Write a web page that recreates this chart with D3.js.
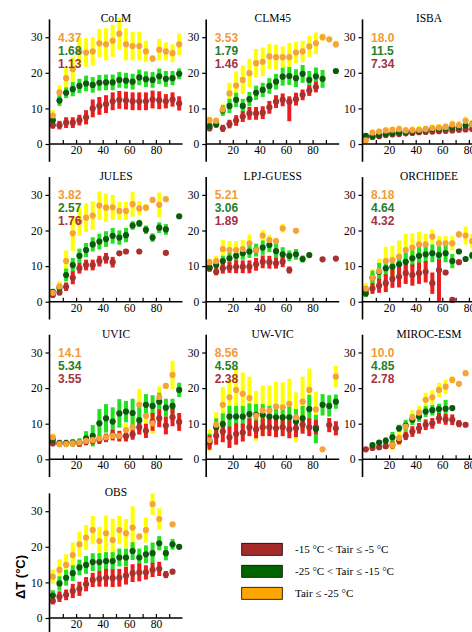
<!DOCTYPE html>
<html lang="en">
<head>
<meta charset="utf-8">
<title>Delta T by model</title>
<script src="https://d3js.org/d3.v7.min.js"></script>
<style>
  body { margin: 0; background: #fff; }
  .tick text { font-family: "Liberation Serif", serif; font-size: 11.5px; fill: #000; }
  .tick line { stroke: #000; stroke-width: 1.2; }
  .title { font-family: "Liberation Serif", serif; font-size: 11.5px; }
  .stat { font-family: "Liberation Sans", sans-serif; font-size: 12px; font-weight: bold; }
  .legend text { font-family: "Liberation Serif", serif; font-size: 11px; }
</style>
</head>
<body>
<script>
// x bins (centres), every 5 units
const binCentres = [2.5, 7.5, 12.5, 17.5, 22.5, 27.5, 32.5, 37.5, 42.5, 47.5,
                    52.5, 57.5, 62.5, 67.5, 72.5, 77.5, 82.5, 87.5, 92.5, 97.5];

const modelNames = ["CoLM", "CLM45", "ISBA", "JULES", "LPJ-GUESS", "ORCHIDEE", "UVIC", "UW-VIC", "MIROC-ESM", "OBS"];
const coldStats = ["4.37", "3.53", "18.0", "3.82", "5.21", "8.18", "14.1", "8.56", "10.0"];
const midStats  = ["1.68", "1.79", "11.5", "2.57", "3.06", "4.64", "5.34", "4.58", "4.85"];
const warmStats = ["1.13", "1.46", "7.34", "1.76", "1.89", "4.32", "3.55", "2.38", "2.78"];

const legendLabels = ["-15 °C < Tair ≤ -5 °C", "-25 °C < Tair ≤ -15 °C", "Tair ≤ -25 °C"];

// [mean, err] per bin (or [mean, errDown, errUp]), null = no data
// warm: -15 < Tair <= -5, mid: -25 < Tair <= -15, cold: Tair <= -25
const colmWarm = [[5.3,1],[5.3,1.2],[6,1.5],[6,1.5],[6.7,1.5],[7.5,2],[10,2.5],[10.7,2.5],[11.2,2.5],[12,2.5],[12.4,2.5],[12.2,2.5],[12,2.5],[12,2.5],[12,2.5],[12.5,2.5],[12.3,2.5],[12,2],[12.5,2],[11.4,2]];
const colmMid = [[6.7,1],[12.2,1.5],[14.4,1.5],[15.4,2],[16.3,2],[17,2.2],[16.6,2.2],[17.2,2.2],[17.3,2.2],[17.3,2.2],[18,2.2],[17.8,2.2],[17.5,2.2],[18.7,2.2],[18.2,2.2],[18,2.2],[19,2.2],[18.3,2.2],[18.5,2],[19.7,1.5]];
const colmCold = [[8,1.5],[14.5,2],[18.5,3],[21,3.5],[26,4],[25.7,4],[26,4],[28.3,4],[28,4.5],[29,4.5],[31,4.5],[28,4.5],[27.5,4],[27.5,4],[26,3],[24,1],[26.5,3],[26,2.5],[25.5,2.5],[28,3]];

const clm45Warm = [[4.4,0.8],null,[4.4,1],[5.6,1.2],[6.6,1.5],[7.7,1.5],[8.6,1.8],[8.6,1.8],[8.8,1.8],[10.3,1.8],[11.9,1.8],[12.4,1.8],[11.9,5.5,1.5],[12.6,1.8],[13.8,1.5],[15,1.5],[16,1.5],null,null,null];
const clm45Mid = [[5,1],[5.5,1],[9.4,1.5],[10.7,2],[12.4,2],[10.7,2],[12.6,2],[14.4,2],[15.2,2],[16.3,2.2],[17.5,2.2],[18.9,2.5],[19.1,2.5],[18.5,2.5],[19.7,2.5],[18,2.5],[19,2.5],[18.3,2.5],null,[20.5,0.3]];
const clm45Cold = [[6.7,1],[6.5,1],[9.7,1.5],[14.2,3],[16.4,4],[18,4],[19.9,4],[22.7,4],[23.1,4],[24.6,3.5],[24.4,3.5],[24.4,3],[24.4,4],[25.7,3],[26,3],[27.4,3],[28.3,3],[30,1],[29.4,0.5],[28,1]];

const isbaWarm = [[2,0.5],[2,0.5],[2.2,0.5],[2.5,0.6],[2.7,0.6],[2.8,0.6],[3,0.6],[3.1,0.6],[3.3,0.6],[3.4,0.7],[3.5,0.7],[3.6,0.7],[3.7,0.7],[3.8,0.7],[4,0.7],[4.1,0.7],[4.2,0.7],[4.3,0.7],[4.4,0.7],[4.5,0.7]];
const isbaMid = [[2.3,0.6],[2.2,0.6],[2.5,0.7],[2.8,0.7],[3,0.8],[3.2,0.8],[3.4,0.8],[3.5,0.8],[3.6,0.8],[4,0.9],[4.2,0.9],[4.3,0.9],[4.5,0.9],[4.6,1],[4.8,1],[5.2,1],[5.5,1],[5.6,1],[5.8,1],[6,1]];
const isbaCold = [[1,0.5],[3.2,0.8],[3.5,0.8],[3.8,0.9],[4,0.9],[4.2,1],[3.8,1],[3.9,1],[4,1],[4.2,1],[4.5,1],[4.6,1],[4.8,1.1],[5.5,1.1],[5.3,1.1],[6.5,1.2],[5.5,1.2],[5.8,1.2],[6,1.2],[6.2,1.2]];

const julesWarm = [[1.9,0.6],[2.6,0.8],[4.2,1.2],[6.7,1.8],[9.4,1.5],[10.3,1.5],[10.3,1.5],[11.4,1.5],[12.2,1.5],[11.1,1.5],[13.6,0.5],[14.1,0.4],null,[14.1,0.3],null,null,null,[13.7,0.3],null,null];
const julesMid = [[2.8,0.8],[3.9,1],[7.5,1.8],[10.3,2],[12.9,2],[14.5,2],[16.1,2],[16.9,2.2],[17.6,2.2],[18.5,2.2],[18,2],[18.7,2],[21.4,1.2],[22,1],[20.2,1.2],[18,1.2],[20.8,1.5],[20.3,1.5],null,[24,0.3]];
const julesCold = [[2.5,1],[4.3,1.5],[11.4,3],[19.2,5],[22.5,4],[23.6,4],[24.2,4],[27,4],[26.4,4],[26.5,3.5],[25.5,2.5],[25.5,2.5],[27.4,3.5],[26.2,2],[26.4,1],[28.6,0.5],[27.2,3.5],[28.8,0.4],null,null];

const lpjWarm = [[9.4,1],[8.4,1],[9.4,1.5],[9.6,1.5],[9.8,1.8],[9.8,1.8],[9.8,1.8],[10.5,1.8],[11.2,1.8],[11.1,1.8],[10.8,1.5],[11.2,1.5],[8.9,1],null,null,null,null,[11.9,0.3],null,[12.1,0.3]];
const lpjMid = [[9.6,1],[10.3,1.2],[11.4,1.5],[12.2,1.5],[12.9,1.8],[13.6,1.8],[14.1,1.8],[14.5,1.8],[15.2,2],[15.9,2],[14.2,2],[13.3,2],[12.9,1.5],[13.3,1.5],[12,1],[13.1,0.5],null,null,null,null];
const lpjCold = [[11.1,1],[11.4,1.5],[14.8,2.5],[14.5,2.5],[14.5,2.5],[14.8,2.5],[16.4,2.5],[14.5,1.5],[18.6,1.5],[17.3,1.5],[17,1],[20.6,1.2],null,[19.9,0.4],null,null,null,null,null,null];

const orchWarm = [[3.3,1],[3.7,1.5],[4.5,2],[5.2,2.5],[6.4,2.5],[7,3],[8,3],[7.5,3],[8,3],[8.4,3],[5.2,3],[8.9,9,3],[8.2,0.5],[0.5,0.3],[11.1,0.3],null,null,null,null,null];
const orchMid = [[2.3,1],[6.7,2],[8.4,2.5],[9.4,2.5],[9.8,2.5],[10.5,2.5],[11.2,2.5],[12.2,2.5],[12.9,2.5],[13.3,2.5],[13.6,2.5],[13.1,2.5],[13.6,2.5],[11.4,2],[14.1,0.5],[12,0.5],[13,1],[13,1],[14,1],[14,1]];
const orchCold = [[3.7,1.5],[6.7,2.5],[8.6,3.5],[11.4,4],[11.7,4],[12.7,4.5],[14.5,4.5],[15.2,4],[16.1,3.5],[16.1,3],[18.3,2],[16.4,2],[16.4,2],[16.4,2],[18.9,1],[18.6,2.5],[17,2],[19,2],[18,2],[20,2]];

const uvicWarm = [[4.5,0.8],[4.5,0.8],[4.5,0.8],[4.5,0.8],[4.5,1],[5,1],[5.2,1],[5.5,1.2],[6,1.2],[6.8,1.5],[6.5,1.5],[6.5,1.5],[7,1.5],[9,2],[8,2],[10.5,2.5],[11.5,2.5],[9.5,2.5],[11.8,2.5],[10.5,2.5]];
const uvicMid = [[5.5,1],[4.5,1],[4.5,1],[4.7,1],[4.7,1.2],[5.9,2],[6.6,3],[10.1,4],[11.5,4],[10.6,4],[12.9,4],[13.4,3],[13,4],[11,4],[15.3,3],[15,3],[16.2,2.5],[14.5,2.5],[15,2],[19.5,2]];
const uvicCold = [[6.2,1],[4.3,1],[4.3,1],[4.5,1],[4.7,1],[5.2,1],[5.4,1],[5.9,1],[6.2,1],[6.6,1],[6.6,1],[8.2,2],[9,3],[15.3,4.5],[12.2,3],[10.1,3],[17.5,3],[20.6,0.5],[23.7,4],null];

const uwvicWarm = [[4.7,2],[6.6,2.5],[7.8,3],[6.2,3],[7.1,3],[7.5,2.5],[9,2.5],[8.4,2.5],[9,2.5],[9,2.5],[8.7,2.5],[9,2.5],[8.4,2.5],[8.7,2.5],[9.7,2.5],[9,2.5],[9,2],null,[9.6,2],[8.7,2]];
const uwvicMid = [[5.2,2],[9,2.5],[9.9,3],[12,3],[12,3],[12,3],[12.7,3],[12.5,3],[12.5,3],[12,3],[11.8,3],[11.8,3],[11.8,3],[10.6,3.5],[11.5,3.5],[14.1,4],[8.5,4],[15.3,3],[15,3],[16.2,2]];
const uwvicCold = [[5.4,3],[9.7,3.5],[15.3,5],[17.4,5],[19.5,6],[18.4,6],[17.2,6],[12.2,7],[13.7,7],[13.7,7],[14.8,7],[14.6,7],[15.6,7],[11.8,7],[16.2,7],[19.5,6],[14,5],[2.8,0.3],null,[23.2,3]];

const mirocWarm = [[2.8,0.4],[3.2,0.5],[3.4,0.6],[3.7,0.8],[4,1],[5.2,1],[6.6,1.2],[7.8,1.5],[8.7,1.5],[9.7,1.5],[10.1,1.5],[11.5,1.5],[11.2,1.5],[11.1,1.5],[10,1],[9.7,0.5],null,null,null,null];
const mirocMid = [null,[4,0.5],[4.7,0.5],[5.2,1],[6.2,1.5],[8.7,1],[9.5,1.5],[11.1,1.5],[12,1.5],[13.4,1.5],[13.8,1.5],[14.1,1.5],[14.2,2.5],[14.4,0.5],null,null,null,null,null,null];
const mirocCold = [null,null,null,null,[4,1.5],[6,2],[9.2,2],[11.8,2],[13.1,2],[16.7,2],[17.4,2],[19.5,2],[20.4,2],[22.3,1],[21.2,0.5],[24.2,0.3],null,null,null,null];

const obsWarm = [[4.8,1],[6,1.5],[6.5,1.5],[7.6,2],[8.2,2],[9.5,2],[10.7,2],[11,2.2],[11.3,2.5],[11.2,2.5],[11.3,2.5],[11.9,2.5],[12.6,2.5],[12.8,2.5],[12.8,2],[13.5,2],[13.8,2],[12.2,1],[13,0.5],null];
const obsMid = [[6.3,1.5],[9.7,2],[11.3,2.2],[12.6,2.2],[14.2,2.2],[14.9,2.5],[15.7,2.5],[15.7,2.5],[16,2.5],[16,2.5],[17,2.5],[17,2.5],[18.8,2.5],[17,2.5],[17.9,2.5],[18.2,3],[21,2],[18.2,2],[20.7,1.5],[20,0.5]];
const obsCold = [[11.6,2],[13.5,3],[14.9,3],[17.7,3.5],[20.7,3.5],[22.6,3.5],[24.7,4],[21.6,4],[23.8,5],[21.9,6],[24.7,4],[23.8,4],[25.4,6],[22.9,1],[24.7,3.5],[32,3],[27.8,3],null,[26.3,0.4],null];

const warmSeries = [colmWarm, clm45Warm, isbaWarm, julesWarm, lpjWarm, orchWarm, uvicWarm, uwvicWarm, mirocWarm, obsWarm];
const midSeries  = [colmMid, clm45Mid, isbaMid, julesMid, lpjMid, orchMid, uvicMid, uwvicMid, mirocMid, obsMid];
const coldSeries = [colmCold, clm45Cold, isbaCold, julesCold, lpjCold, orchCold, uvicCold, uwvicCold, mirocCold, obsCold];

// styling
const W = 472, H = 632;
const colLeft = [49.5, 206.2, 362.5];
const rowBase = [144, 301.7, 459.3, 618];
const barColor = {cold: "#ffff00", mid: "#22e022", warm: "#ee1c1c"};
const dotColor = {cold: "#f5a33a", mid: "#0c5a0c", warm: "#a8302e"};
const statColor = {cold: "#f29b38", mid: "#2a7d2a", warm: "#a3343f"};
const legendColor = ["#a52a2a", "#006400", "#ffa500"];

const x = d3.scaleLinear().domain([0, 100]).range([0, 133]);
const y = d3.scaleLinear().domain([0, 35]).range([0, -124.6]);

const svg = d3.select("body").append("svg")
    .attr("width", W)
    .attr("height", H)
    .style("background", "#fff");

function toPoints(arr) {
    const pts = [];
    arr.forEach((d, i) => {
        if (d == null) return;
        const lo = d[1], hi = d.length > 2 ? d[2] : d[1];
        pts.push({x: binCentres[i], m: d[0], lo: Math.max(0, d[0] - lo), hi: d[0] + hi});
    });
    return pts;
}

modelNames.forEach((name, k) => {
    const col = k % 3, row = Math.floor(k / 3);
    const g = svg.append("g")
        .attr("transform", "translate(" + colLeft[col] + "," + rowBase[row] + ")");

    const series = {warm: toPoints(warmSeries[k]), mid: toPoints(midSeries[k]), cold: toPoints(coldSeries[k])};

    // error bars: yellow under green under red
    ["cold", "mid", "warm"].forEach(key => {
        g.selectAll("rect.bar-" + key)
            .data(series[key])
            .enter().append("rect")
            .attr("class", "bar-" + key)
            .attr("x", d => x(d.x) - 2)
            .attr("width", 4)
            .attr("y", d => y(d.hi))
            .attr("height", d => Math.max(1, y(d.lo) - y(d.hi)))
            .attr("fill", barColor[key]);
    });
    // dots, orange on top
    ["warm", "mid", "cold"].forEach(key => {
        g.selectAll("circle.dot-" + key)
            .data(series[key])
            .enter().append("circle")
            .attr("class", "dot-" + key)
            .attr("cx", d => x(d.x))
            .attr("cy", d => y(d.m))
            .attr("r", 3.1)
            .attr("fill", dotColor[key]);
    });

    // axes
    const xAxis = d3.axisBottom(x)
        .tickValues([10, 20, 30, 40, 50, 60, 70, 80, 90])
        .tickFormat(d => d % 20 === 0 ? d : "")
        .tickSizeInner(-4).tickSizeOuter(0).tickPadding(2);
    const gx = g.append("g").call(xAxis);
    gx.select(".domain").remove();

    const yAxis = d3.axisLeft(y)
        .tickValues([0, 10, 20, 30])
        .tickSizeInner(4).tickSizeOuter(0).tickPadding(3);
    const gy = g.append("g").call(yAxis);
    gy.select(".domain").remove();

    g.append("line")
        .attr("x1", x(0)).attr("x2", x(100))
        .attr("y1", y(0)).attr("y2", y(0))
        .attr("stroke", "#000").attr("stroke-width", 1.6);
    g.append("line")
        .attr("x1", x(0)).attr("x2", x(0))
        .attr("y1", y(-5)).attr("y2", y(35))
        .attr("stroke", "#000").attr("stroke-width", 1.6);

    g.append("text")
        .attr("class", "title")
        .attr("x", x(50))
        .attr("y", -121.7)
        .attr("text-anchor", "middle")
        .text(name);

    if (k < coldStats.length) {
        [[coldStats[k], "cold"], [midStats[k], "mid"], [warmStats[k], "warm"]].forEach((s, j) => {
            g.append("text")
                .attr("class", "stat")
                .attr("x", 8.5)
                .attr("y", -102.5 + j * 13)
                .attr("fill", statColor[s[1]])
                .text(s[0]);
        });
    }
});

// y axis title
svg.append("text")
    .attr("transform", "translate(25,577) rotate(-90)")
    .attr("text-anchor", "middle")
    .style("font-family", "'Liberation Sans', sans-serif")
    .style("font-size", "13px")
    .style("font-weight", "bold")
    .text("ΔT (°C)");

// legend
const legend = svg.append("g").attr("class", "legend");
legendLabels.forEach((lab, i) => {
    const ly = 543.3 + i * 22;
    legend.append("rect")
        .attr("x", 241.7).attr("y", ly)
        .attr("width", 40.6).attr("height", 12)
        .attr("fill", legendColor[i])
        .attr("stroke", "#000").attr("stroke-width", 0.8);
    legend.append("text")
        .attr("x", 295).attr("y", ly + 10)
        .text(lab);
});
</script>
</body>
</html>
